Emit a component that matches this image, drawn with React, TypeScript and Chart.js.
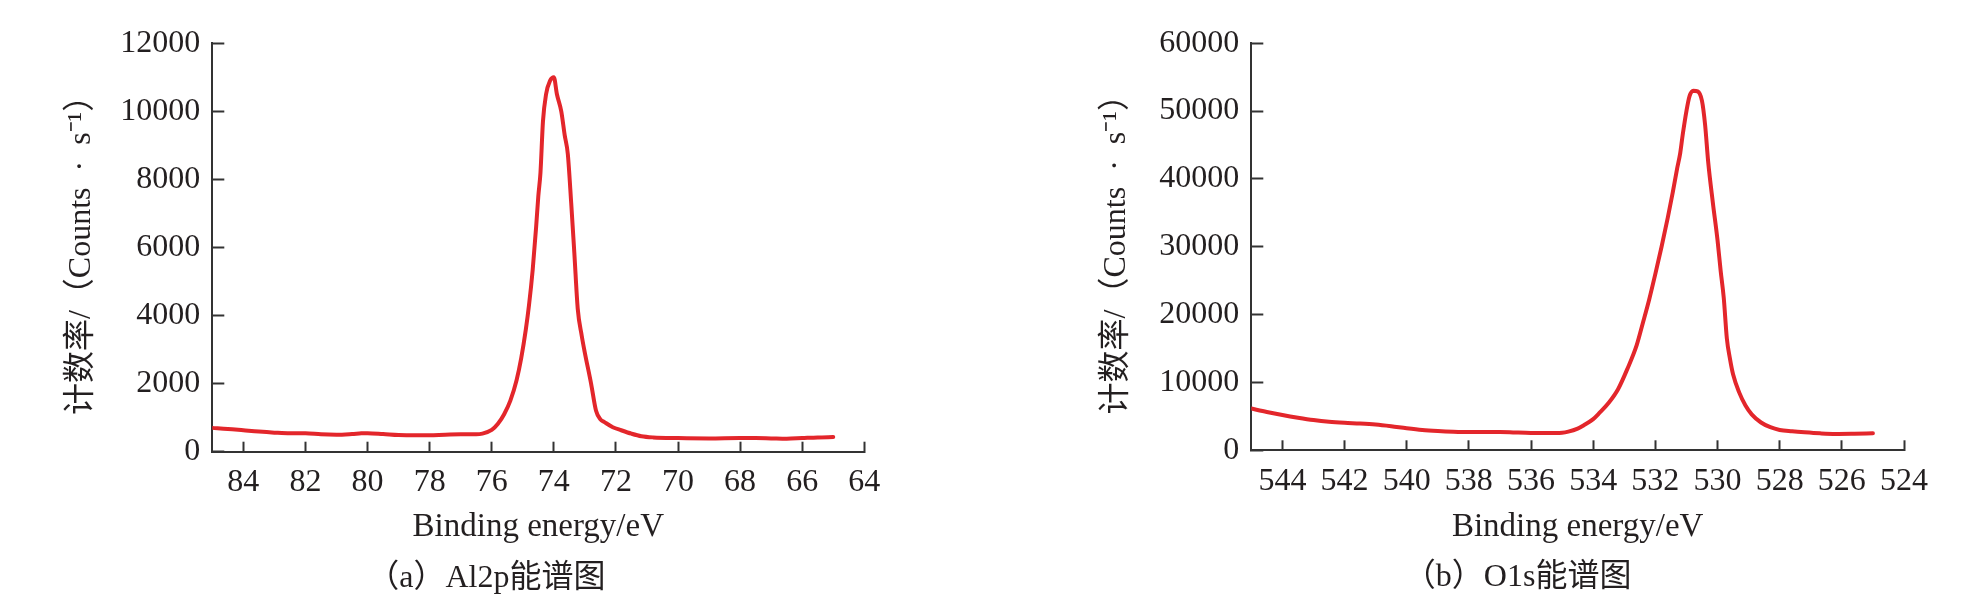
import React, { useEffect, useRef } from "react";
import { Chart, registerables } from "chart.js";

Chart.register(...registerables);

// ---------- data ----------
const AL_ENERGY = [
  85.0, 84.5, 84.0, 83.5, 83.0, 82.5, 82.0, 81.5, 81.0, 80.5, 80.2, 80.0, 79.5, 79.0, 78.5, 78.0, 77.5, 77.0,
  76.5, 76.3, 76.0, 75.8, 75.6, 75.4, 75.2, 75.05, 74.9, 74.8, 74.68, 74.57, 74.5, 74.43, 74.35, 74.25, 74.12,
  74.0, 73.9, 73.76, 73.65, 73.55, 73.44, 73.34, 73.23, 73.1, 73.01, 72.8, 72.64, 72.5, 72.37, 72.1, 71.83,
  71.5, 71.18, 70.8, 70.0, 69.0, 68.0, 67.5, 67.0, 66.5, 66.0, 65.5, 65.0,
];
const AL_COUNTS = [
  700, 670, 630, 590, 560, 540, 540, 510, 500, 520, 540, 545, 520, 490, 480, 480, 500, 510,
  510, 530, 640, 820, 1100, 1500, 2100, 2750, 3600, 4300, 5350, 6600, 7500, 8200, 9700, 10500, 10900,
  11000, 10500, 10000, 9300, 8750, 7300, 5850, 4200, 3400, 2950, 2000, 1200, 950, 870, 720, 630,
  530, 455, 420, 400, 390, 400, 400, 390, 380, 400, 420, 430,
];

const O_ENERGY = [
  545.0, 544.5, 544.0, 543.5, 543.0, 542.5, 542.0, 541.5, 541.0, 540.5, 540.0, 539.5, 539.0, 538.5, 538.0,
  537.5, 537.0, 536.5, 536.0, 535.5, 535.0, 534.8, 534.5, 534.3, 534.0, 533.8, 533.5, 533.2, 532.9, 532.6,
  532.4, 532.2, 532.0, 531.8, 531.6, 531.44, 531.3, 531.2, 531.12, 531.0, 530.9, 530.78, 530.64, 530.5,
  530.4, 530.3, 530.15, 530.0, 529.9, 529.8, 529.7, 529.6, 529.5, 529.3, 529.1, 528.9, 528.6, 528.3, 528.0,
  527.6, 527.2, 526.7, 526.2, 525.6, 525.0,
];
const O_COUNTS = [
  6150, 5650, 5200, 4800, 4450, 4200, 4050, 3950, 3800, 3550, 3250, 3000, 2850, 2750, 2700,
  2700, 2700, 2620, 2560, 2550, 2600, 2750, 3200, 3700, 4600, 5500, 7000, 9000, 12000, 15500,
  18800, 22200, 26000, 30000, 34300, 38000, 41500, 43800, 46500, 50000, 52200, 53000, 52900, 51500,
  48000, 42500, 36500, 31000, 26500, 22500, 16500, 13500, 11200, 8500, 6600, 5300, 4100, 3400, 3000,
  2800, 2650, 2500, 2420, 2450, 2500,
];

const AL_X_TICKS = [84, 82, 80, 78, 76, 74, 72, 70, 68, 66, 64];
const AL_Y_TICKS = [0, 2000, 4000, 6000, 8000, 10000, 12000];
const O_X_TICKS = [544, 542, 540, 538, 536, 534, 532, 530, 528, 526, 524];
const O_Y_TICKS = [0, 10000, 20000, 30000, 40000, 50000, 60000];

const Y_TITLE = "计数率/（Counts\u2002·\u2002s⁻¹）";
const X_TITLE = "Binding energy/eV";
const AL_CAPTION = "（a）Al2p能谱图";
const O_CAPTION = "（b）O1s能谱图";

// ---------- styles ----------
const CANVAS_W = 984;
const CANVAS_H = 615;
const FONT = "'Liberation Serif', 'Noto Sans CJK SC', serif";
const TEXT_COLOR = "#231f20";
const AXIS_COLOR = "#333333";
const LINE_COLOR = "#e3262b";

const captionPlugin = {
  id: "caption",
  afterDraw(chart: any, _args: any, opts: any) {
    const ctx = chart.ctx;
    const ca = chart.chartArea;
    ctx.save();
    ctx.font = `32px ${FONT}`;
    ctx.fillStyle = TEXT_COLOR;
    ctx.textAlign = "center";
    ctx.textBaseline = "middle";
    ctx.fillText(opts.text, (ca.left + ca.right) / 2 + opts.dx, ca.bottom + opts.dy);
    ctx.restore();
  },
};

type Spec = {
  energy: number[];
  counts: number[];
  xTicks: number[];
  yTicks: number[];
  xMin: number;
  xMax: number;
  yMax: number;
  caption: string;
  captionDx: number;
  areaLeft: number;
  areaTop: number;
  areaRight: number;
  areaBottom: number;
  yTitleX: number;
};

function buildConfig(s: Spec): any {
  const yTitleSize = 32;
  const xTitleSize = 33;
  return {
    type: "line",
    data: {
      datasets: [
        {
          data: s.energy.map((e, i) => ({ x: e, y: s.counts[i] })),
          borderColor: LINE_COLOR,
          borderWidth: 4,
          pointRadius: 0,
          fill: false,
          cubicInterpolationMode: "monotone",
          borderJoinStyle: "round",
          borderCapStyle: "round",
        },
      ],
    },
    options: {
      responsive: false,
      animation: false,
      events: [],
      layout: {
        padding: { left: 0, top: s.areaTop, right: CANVAS_W - s.areaRight, bottom: 0 },
      },
      plugins: {
        legend: { display: false },
        tooltip: { enabled: false },
        caption: { text: s.caption, dx: s.captionDx, dy: 127 },
      },
      scales: {
        x: {
          type: "linear",
          reverse: true,
          min: s.xMin,
          max: s.xMax,
          afterBuildTicks: (sc: any) => {
            sc.ticks = s.xTicks.map((v) => ({ value: v }));
          },
          afterFit: (sc: any) => {
            sc.height = CANVAS_H - s.areaBottom;
          },
          border: { display: true, color: AXIS_COLOR, width: 2 },
          grid: {
            display: true,
            drawOnChartArea: false,
            drawTicks: true,
            tickLength: -10,
            tickWidth: 2,
            tickColor: AXIS_COLOR,
          },
          ticks: {
            font: { family: FONT, size: 32 },
            color: TEXT_COLOR,
            padding: 22,
            maxRotation: 0,
            autoSkip: false,
            callback: (v: any) => String(v),
          },
          title: {
            display: true,
            text: X_TITLE,
            color: TEXT_COLOR,
            font: { family: FONT, size: xTitleSize },
            padding: { top: 0, bottom: 68 },
          },
        },
        y: {
          type: "linear",
          min: 0,
          max: s.yMax,
          afterBuildTicks: (sc: any) => {
            sc.ticks = s.yTicks.map((v) => ({ value: v }));
          },
          afterFit: (sc: any) => {
            sc.width = s.areaLeft;
          },
          border: { display: true, color: AXIS_COLOR, width: 2 },
          grid: {
            display: true,
            drawOnChartArea: false,
            drawTicks: true,
            tickLength: -12,
            tickWidth: 2,
            tickColor: AXIS_COLOR,
          },
          ticks: {
            font: { family: FONT, size: 32 },
            color: TEXT_COLOR,
            padding: 24,
            callback: (v: any) => String(v),
          },
          title: {
            display: true,
            text: Y_TITLE,
            color: TEXT_COLOR,
            font: { family: FONT, size: yTitleSize },
            padding: { top: s.yTitleX - (yTitleSize * 1.2) / 2, bottom: 0 },
          },
        },
      },
    },
    plugins: [captionPlugin],
  };
}

function SpectrumChart({ spec, left }: { spec: Spec; left: number }) {
  const ref = useRef<HTMLCanvasElement>(null);
  useEffect(() => {
    const chart = new Chart(ref.current as HTMLCanvasElement, buildConfig(spec));
    return () => chart.destroy();
  }, []);
  return (
    <canvas
      ref={ref}
      width={CANVAS_W}
      height={CANVAS_H}
      style={{ position: "absolute", left, top: 0, width: CANVAS_W, height: CANVAS_H }}
    />
  );
}

const AL_SPEC: Spec = {
  energy: AL_ENERGY,
  counts: AL_COUNTS,
  xTicks: AL_X_TICKS,
  yTicks: AL_Y_TICKS,
  xMin: 64,
  xMax: 85,
  yMax: 12000,
  caption: AL_CAPTION,
  captionDx: -52,
  areaLeft: 212.3,
  areaTop: 37.7,
  areaRight: 864.3,
  areaBottom: 451.7,
  yTitleX: 82,
};

const O_SPEC: Spec = {
  energy: O_ENERGY,
  counts: O_COUNTS,
  xTicks: O_X_TICKS,
  yTicks: O_Y_TICKS,
  xMin: 524,
  xMax: 545,
  yMax: 60000,
  caption: O_CAPTION,
  captionDx: -60,
  areaLeft: 1251.3 - 984,
  areaTop: 35.7,
  areaRight: 1904 - 984,
  areaBottom: 450.3,
  yTitleX: 1116.4 - 984,
};

export default function App() {
  return (
    <div
      style={{
        position: "absolute",
        left: 0,
        top: 0,
        width: 1968,
        height: 615,
        background: "#ffffff",
        overflow: "hidden",
      }}
    >
      <SpectrumChart spec={AL_SPEC} left={0} />
      <SpectrumChart spec={O_SPEC} left={984} />
    </div>
  );
}
